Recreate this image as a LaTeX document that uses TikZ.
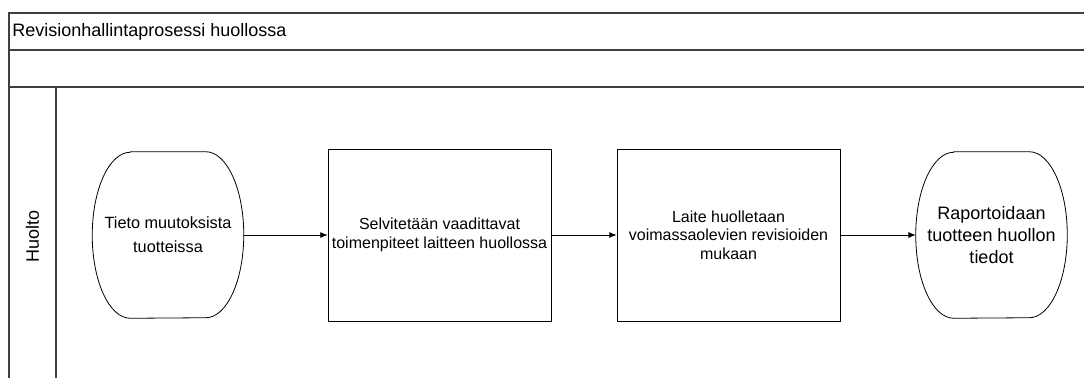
\documentclass[tikz,border=0pt]{standalone}
\usepackage{fontspec}
\setmainfont{Liberation Sans}
\usepackage{tikz}
\usetikzlibrary{arrows.meta,positioning}
\tikzset{
  revframe/.style={draw=black!75, line width=0.8pt},
  revlabel/.style={inner sep=0pt, font=\fontsize{13.5}{16}\selectfont},
  revterm/.style={align=center, inner sep=0pt, minimum width=113.25pt, minimum height=124.5pt, font=\fontsize{13.5}{16.5}\selectfont},
  revbox/.style={draw, line width=0.6pt, align=center, inner sep=0pt, minimum width=167.25pt, minimum height=129pt, font=\fontsize{12}{14}\selectfont},
  revline/.style={draw, line width=0.6pt},
  revarrow/.style={-{Latex[length=5.5pt,width=4.5pt]}, line width=0.6pt}
}

\begin{document}
\begin{tikzpicture}[x=0.75pt,y=-0.75pt]
\useasboundingbox (0,0) rectangle (1084,378);
% pool and lane
\draw[revframe] (1084,13) -- (9,13) -- (9,378);
\draw[revframe] (9,50) -- (1084,50);
\draw[revframe] (9,87) -- (1084,87);
\draw[revframe] (56,87) -- (56,378);
\node[revlabel, anchor=west] (pooltitle) at (12,31.5) {Revisionhallintaprosessi huollossa};
\node[revlabel, rotate=90] (lanetitle) at (32.5,236) {Huolto};

% process
\node[revterm, font=\fontsize{12.2}{18}\selectfont] (tieto) at (168,235) {Tieto muutoksista\\tuotteissa};
\node[revbox] (selvitys) at (439.5,235) {Selvitetään vaadittavat\\toimenpiteet laitteen huollossa};
\node[revbox] (huolletaan) at (728.5,235) {Laite huolletaan\\voimassaolevien revisioiden\\mukaan};
\node[revterm] (raportti) at (991.5,235) {Raportoidaan\\tuotteen huollon\\tiedot};
\foreach \n in {tieto,raportti}
  \draw[revline] ([xshift=28.5pt]\n.north west) -- ([xshift=-28.5pt]\n.north east)
    arc[start angle=90, end angle=-90, x radius=28.5pt, y radius=62.25pt]
    -- ([xshift=28.5pt]\n.south west)
    arc[start angle=270, end angle=90, x radius=28.5pt, y radius=62.25pt] -- cycle;

\draw[revarrow] (tieto) -- (selvitys);
\draw[revarrow] (selvitys) -- (huolletaan);
\draw[revarrow] (huolletaan) -- (raportti);
\end{tikzpicture}
\end{document}
